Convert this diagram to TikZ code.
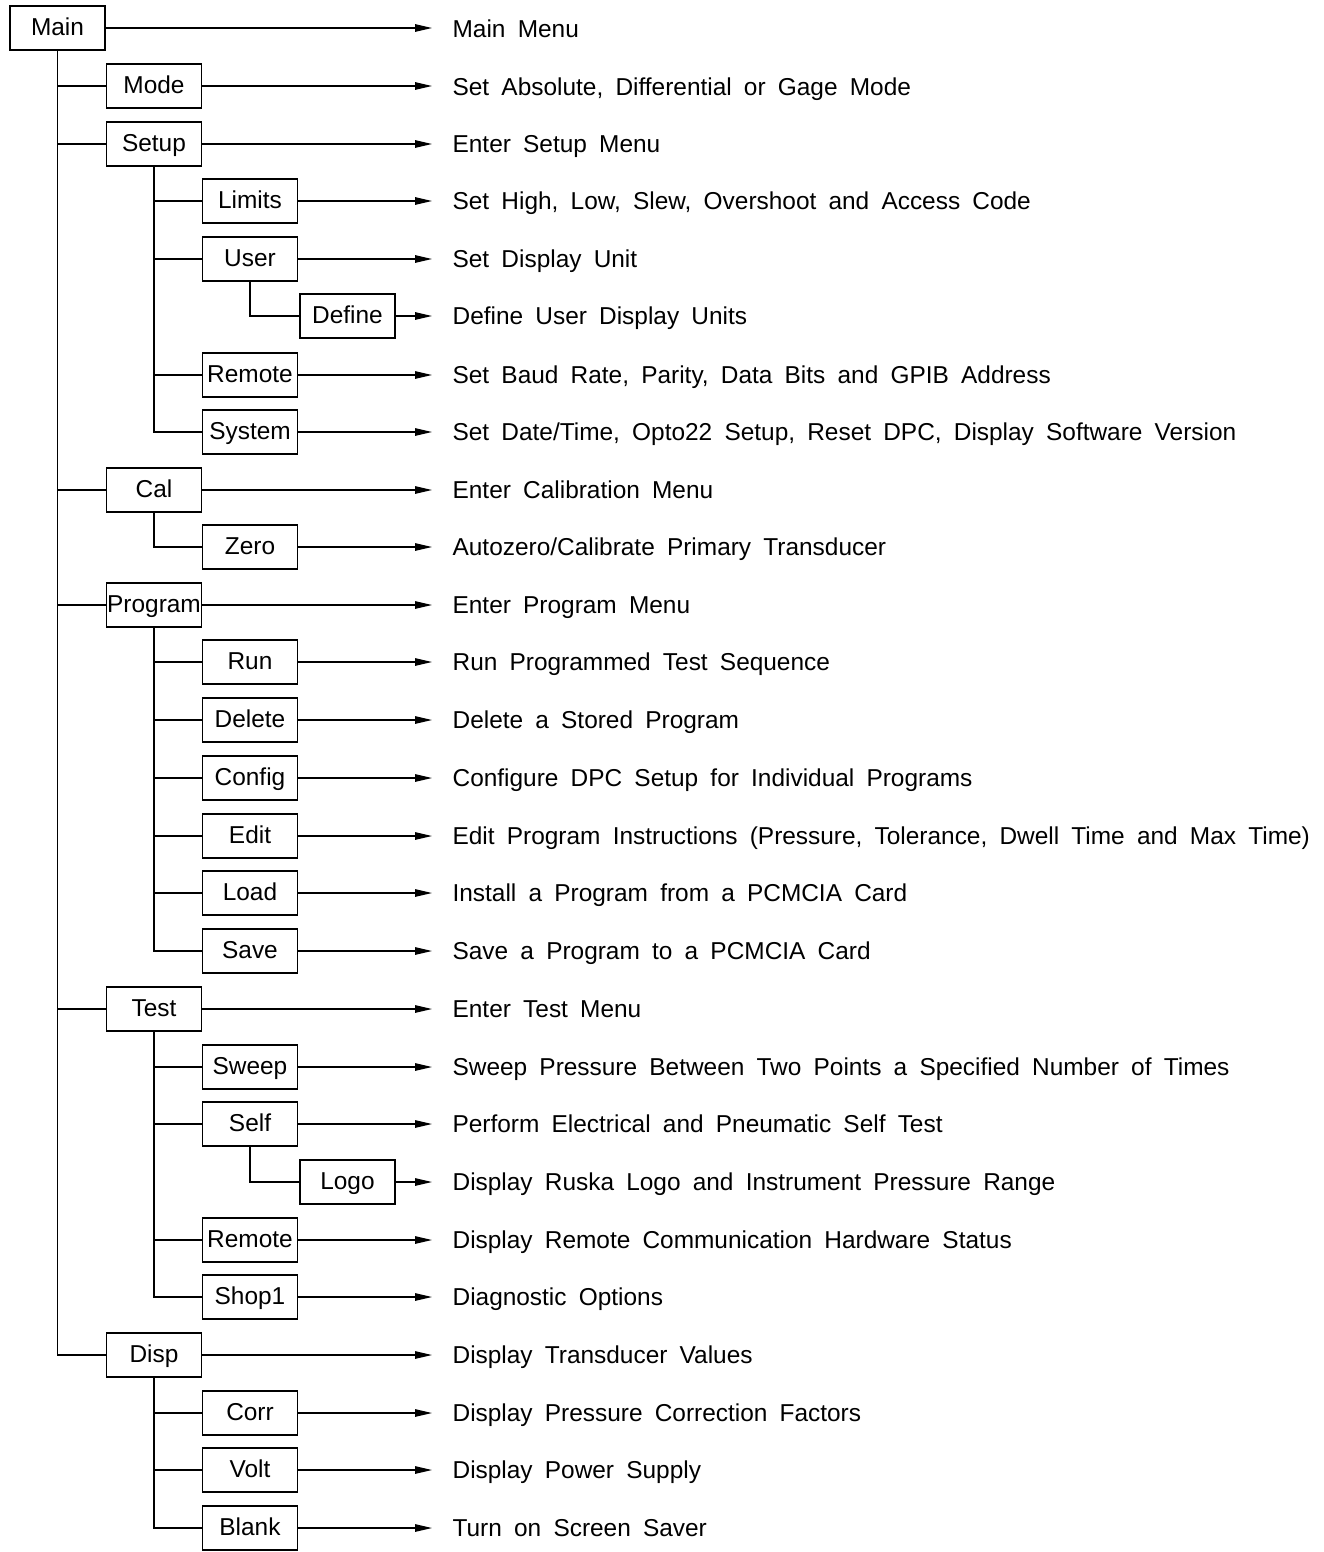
\documentclass[tikz,border=0pt]{standalone}
\usepackage{fontspec}
\setmainfont{Liberation Sans}[WordSpace=1.8]
\usetikzlibrary{arrows.meta}
\begin{document}
\begin{tikzpicture}[x=0.02cm,y=-0.02cm,line width=0.7pt,
  every node/.style={font=\fontsize{13.9}{16}\selectfont,inner sep=0pt,text height=11pt,text depth=2pt},
  menu/.style={draw,minimum width=1.9cm,minimum height=0.88cm},
  desc/.style={anchor=west},
  arr/.style={-{Triangle[length=0.34cm,width=0.15cm]},shorten >=0.4cm}]
  \useasboundingbox (0,0) rectangle (1323,1552);
  % menu boxes
  \node[menu] (main) at (57.5,28) {Main};
  \node[menu] (mode) at (154,86) {Mode};
  \node[menu] (setup) at (154,144) {Setup};
  \node[menu] (limits) at (250,201) {Limits};
  \node[menu] (user) at (250,259) {User};
  \node[menu] (define) at (347.5,316) {Define};
  \node[menu] (sremote) at (250,375) {Remote};
  \node[menu] (system) at (250,432) {System};
  \node[menu] (cal) at (154,490) {Cal};
  \node[menu] (zero) at (250,547) {Zero};
  \node[menu] (program) at (154,605) {Program};
  \node[menu] (run) at (250,662) {Run};
  \node[menu] (delete) at (250,720) {Delete};
  \node[menu] (config) at (250,778) {Config};
  \node[menu] (edit) at (250,836) {Edit};
  \node[menu] (load) at (250,893) {Load};
  \node[menu] (save) at (250,951) {Save};
  \node[menu] (test) at (154,1009) {Test};
  \node[menu] (sweep) at (250,1067) {Sweep};
  \node[menu] (self) at (250,1124) {Self};
  \node[menu] (logo) at (347.5,1182) {Logo};
  \node[menu] (tremote) at (250,1240) {Remote};
  \node[menu] (shop) at (250,1297) {Shop1};
  \node[menu] (disp) at (154,1355) {Disp};
  \node[menu] (corr) at (250,1413) {Corr};
  \node[menu] (volt) at (250,1470) {Volt};
  \node[menu] (blank) at (250,1528) {Blank};
  % descriptions
  \node[desc] (main-d) at (452,30) {Main Menu};
  \node[desc] (mode-d) at (452,88) {Set Absolute, Differential or Gage Mode};
  \node[desc] (setup-d) at (452,145) {Enter Setup Menu};
  \node[desc] (limits-d) at (452,202) {Set High, Low, Slew, Overshoot and Access Code};
  \node[desc] (user-d) at (452,260) {Set Display Unit};
  \node[desc] (define-d) at (452,317) {Define User Display Units};
  \node[desc] (sremote-d) at (452,376) {Set Baud Rate, Parity, Data Bits and GPIB Address};
  \node[desc] (system-d) at (452,433) {Set Date/Time, Opto22 Setup, Reset DPC, Display Software Version};
  \node[desc] (cal-d) at (452,491) {Enter Calibration Menu};
  \node[desc] (zero-d) at (452,548) {Autozero/Calibrate Primary Transducer};
  \node[desc] (program-d) at (452,606) {Enter Program Menu};
  \node[desc] (run-d) at (452,663) {Run Programmed Test Sequence};
  \node[desc] (delete-d) at (452,721) {Delete a Stored Program};
  \node[desc] (config-d) at (452,779) {Configure DPC Setup for Individual Programs};
  \node[desc] (edit-d) at (452,837) {Edit Program Instructions (Pressure, Tolerance, Dwell Time and Max Time)};
  \node[desc] (load-d) at (452,894) {Install a Program from a PCMCIA Card};
  \node[desc] (save-d) at (452,952) {Save a Program to a PCMCIA Card};
  \node[desc] (test-d) at (452,1010) {Enter Test Menu};
  \node[desc] (sweep-d) at (452,1068) {Sweep Pressure Between Two Points a Specified Number of Times};
  \node[desc] (self-d) at (452,1125) {Perform Electrical and Pneumatic Self Test};
  \node[desc] (logo-d) at (452,1183) {Display Ruska Logo and Instrument Pressure Range};
  \node[desc] (tremote-d) at (452,1241) {Display Remote Communication Hardware Status};
  \node[desc] (shop-d) at (452,1298) {Diagnostic Options};
  \node[desc] (disp-d) at (452,1356) {Display Transducer Values};
  \node[desc] (corr-d) at (452,1414) {Display Pressure Correction Factors};
  \node[desc] (volt-d) at (452,1471) {Display Power Supply};
  \node[desc] (blank-d) at (452,1529) {Turn on Screen Saver};
  % tree lines
  \foreach \p/\c in {main/mode,main/setup,main/cal,main/program,main/test,main/disp,
    setup/limits,setup/user,setup/sremote,setup/system,user/define,cal/zero,
    program/run,program/delete,program/config,program/edit,program/load,program/save,
    test/sweep,test/self,test/tremote,test/shop,self/logo,disp/corr,disp/volt,disp/blank}
    \draw (\p.south) |- (\c.west);
  % arrows to descriptions
  \foreach \n in {main,mode,setup,limits,user,define,sremote,system,cal,zero,program,run,delete,
    config,edit,load,save,test,sweep,self,logo,tremote,shop,disp,corr,volt,blank}
    \draw[arr] (\n.east) -- (\n.east -| \n-d.west);
\end{tikzpicture}
\end{document}
